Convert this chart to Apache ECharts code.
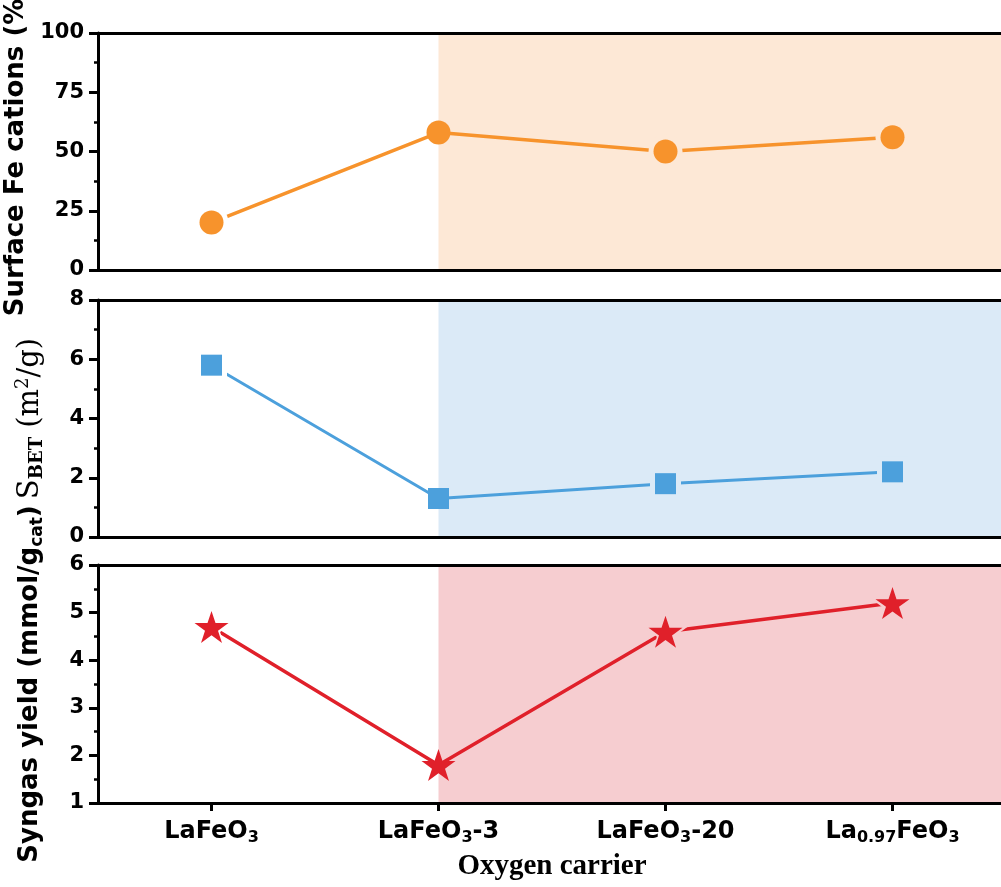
<!DOCTYPE html>
<html>
<head>
<meta charset="utf-8">
<title>Oxygen carrier properties</title>
<script src="https://cdn.jsdelivr.net/npm/echarts@6/dist/echarts.min.js"></script>
<style>
  html, body { margin: 0; padding: 0; background: #fff; }
  #chart { width: 1001px; height: 887px; }
</style>
</head>
<body>
<div id="chart"></div>
<script>
// Oxygen carriers on the shared x axis
const categories = ['LaFeO3', 'LaFeO3-3', 'LaFeO3-20', 'La0.97FeO3'];
const tickLabels = ['LaFeO{s|3}', 'LaFeO{s|3}-3', 'LaFeO{s|3}-20', 'La{s|0.97}FeO{s|3}'];

// Measured properties per carrier
const surfaceFe = [20, 58, 50, 56];      // %
const sBET = [5.8, 1.3, 1.8, 2.2];       // m2/g
const syngasYield = [4.7, 1.8, 4.6, 5.2]; // mmol/g_cat

// y-axis tick ranges for each panel
const feTicks = { min: 0, max: 100, interval: 25 };
const betTicks = { min: 0, max: 8, interval: 2 };
const yieldTicks = { min: 1, max: 6, interval: 1 };

// Shaded region starts at this carrier and runs to the right edge
const shadeFrom = 1;

const STAR = 'path://M50,0 L61.2,34.5 L97.6,34.5 L68.2,55.9 L79.4,90.5 L50,69.1 L20.6,90.5 L31.8,55.9 L2.4,34.5 L38.8,34.5 Z';

const panels = [
  {
    values: surfaceFe, ticks: feTicks, top: 33, height: 237,
    color: '#F7932C', shade: '#FDE8D6', lineWidth: 3.5,
    symbol: 'circle', size: 24, maskSize: 34,
    name: 'Surface Fe cations (%)',
    nameStyle: { fontFamily: 'DejaVu Sans', fontWeight: 'bold', fontSize: 26, color: '#000' }
  },
  {
    values: sBET, ticks: betTicks, top: 300, height: 237,
    color: '#4CA0DC', shade: '#DBEAF7', lineWidth: 3,
    symbol: 'rect', size: 21, maskSize: 31,
    name: '{s|S}{b|BET}{s| (m}{p|2}{s|/g)}',
    nameStyle: {
      color: '#000',
      rich: {
        s: { fontFamily: 'DejaVu Serif', fontSize: 29, color: '#000' },
        b: { fontFamily: 'DejaVu Serif', fontWeight: 'bold', fontSize: 18, color: '#000', padding: [14, 0, 0, 0] },
        p: { fontFamily: 'DejaVu Serif', fontSize: 18, color: '#000', padding: [0, 0, 14, 0] }
      }
    }
  },
  {
    values: syngasYield, ticks: yieldTicks, top: 565, height: 238,
    color: '#E0202A', shade: '#F6CDD0', lineWidth: 3.5,
    symbol: STAR, size: [34, 32], maskSize: [45, 43],
    name: 'Syngas yield (mmol/g{c|cat})',
    nameStyle: {
      fontFamily: 'DejaVu Sans', fontWeight: 'bold', fontSize: 26, color: '#000',
      rich: {
        c: { fontFamily: 'DejaVu Sans', fontWeight: 'bold', fontSize: 17, color: '#000', padding: [14, 0, 0, 0] }
      }
    }
  }
];

const axisLineStyle = { color: '#000', width: 3 };
const grids = [], xAxes = [], yAxes = [], series = [];

panels.forEach((p, i) => {
  const last = i === panels.length - 1;
  grids.push({
    left: 98, width: 908, top: p.top, height: p.height,
    containLabel: false, outerBoundsMode: 'none'
  });

  // category axis (bottom frame line; ticks and labels on the lowest panel)
  xAxes.push({
    type: 'category', gridIndex: i, data: categories, boundaryGap: true,
    position: 'bottom', z: 5,
    axisLine: { show: true, onZero: false, lineStyle: axisLineStyle },
    axisTick: { show: last, alignWithLabel: true, interval: 0, length: 8, lineStyle: { color: '#000', width: 3 } },
    axisLabel: {
      show: last, interval: 0, margin: 14, color: '#000',
      fontFamily: 'DejaVu Sans', fontWeight: 'bold', fontSize: 24,
      formatter: (v, idx) => tickLabels[idx],
      rich: {
        s: { fontFamily: 'DejaVu Sans', fontWeight: 'bold', fontSize: 16, color: '#000', padding: [13, 0, 0, 0] }
      }
    },
    splitLine: { show: false },
    name: last ? 'Oxygen carrier' : '',
    nameLocation: 'middle', nameGap: 49,
    nameTextStyle: { fontFamily: 'Liberation Serif', fontWeight: 'bold', fontSize: 29, color: '#000' }
  });

  // value axis aligned with the category centres (top frame line, carries the data)
  xAxes.push({
    type: 'value', gridIndex: i, min: -0.5, max: categories.length - 0.5,
    position: 'top', z: 5,
    axisLine: { show: true, onZero: false, lineStyle: axisLineStyle },
    axisTick: { show: false }, axisLabel: { show: false }, splitLine: { show: false }
  });

  yAxes.push({
    type: 'value', gridIndex: i, position: 'left',
    min: p.ticks.min, max: p.ticks.max, interval: p.ticks.interval, z: 5,
    axisLine: { show: true, onZero: false, lineStyle: axisLineStyle },
    axisTick: { show: true, length: 9, lineStyle: { color: '#000', width: 3 } },
    minorTick: { show: true, splitNumber: 2, length: 4, lineStyle: { color: '#000', width: 2.5 } },
    splitLine: { show: false }, minorSplitLine: { show: false },
    axisLabel: { margin: 14, color: '#000', fontFamily: 'DejaVu Sans', fontWeight: 'bold', fontSize: 21 },
    name: p.name, nameLocation: 'middle', nameGap: 52, nameRotate: 90,
    nameTextStyle: p.nameStyle
  });

  const pts = p.values.map((v, k) => [k, v]);
  const xIdx = 2 * i + 1;

  // connecting line plus the shaded band
  series.push({
    type: 'line', xAxisIndex: xIdx, yAxisIndex: i, data: pts,
    showSymbol: false, silent: true, z: 1,
    lineStyle: { color: p.color, width: p.lineWidth },
    markArea: {
      silent: true,
      itemStyle: { color: p.shade, opacity: 1 },
      data: [[{ xAxis: shadeFrom }, { xAxis: categories.length - 0.5 }]]
    }
  });

  // background-coloured halo that leaves a small gap between line and marker
  series.push({
    type: 'scatter', xAxisIndex: xIdx, yAxisIndex: i, silent: true, z: 2,
    symbol: p.symbol, symbolSize: p.maskSize,
    data: pts.filter((d, k) => k !== shadeFrom).map(d => ({
      value: d, itemStyle: { color: d[0] < shadeFrom ? '#ffffff' : p.shade, opacity: 1 }
    }))
  });

  // markers
  series.push({
    type: 'scatter', xAxisIndex: xIdx, yAxisIndex: i, silent: true, z: 3,
    symbol: p.symbol, symbolSize: p.size,
    itemStyle: { color: p.color, opacity: 1 },
    data: pts
  });
});

const chart = echarts.init(document.getElementById('chart'), null, { renderer: 'canvas' });
chart.setOption({
  backgroundColor: '#ffffff',
  animation: false,
  grid: grids,
  xAxis: xAxes,
  yAxis: yAxes,
  series: series
});
</script>
</body>
</html>
